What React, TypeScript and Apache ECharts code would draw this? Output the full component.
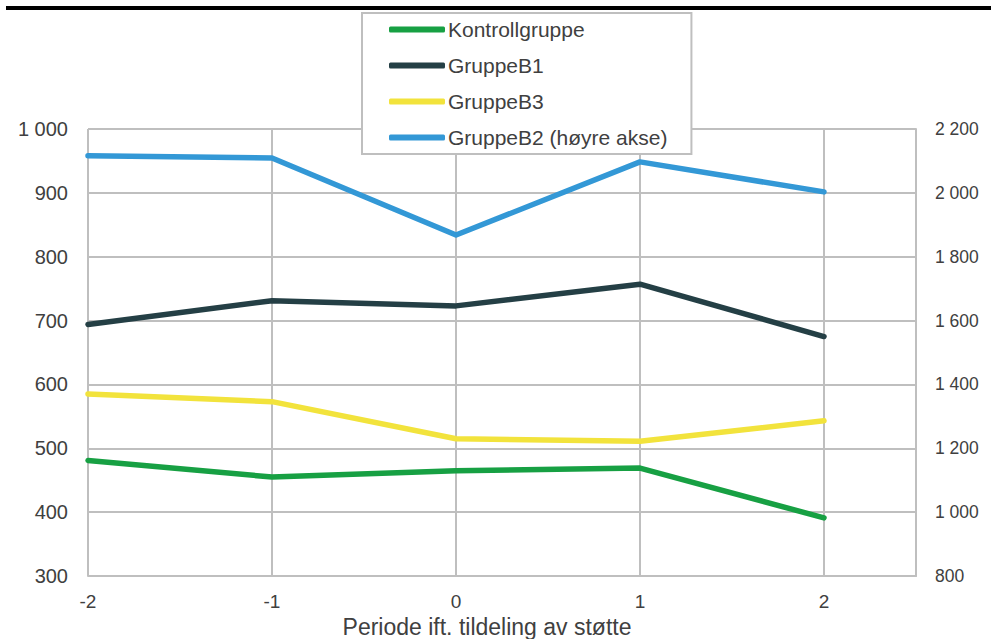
import React, { useEffect, useRef } from "react";
import * as echarts from "echarts";

const periods = [-2, -1, 0, 1, 2];
const kontrollgruppe = [481, 455, 465, 469, 391];
const gruppeB1 = [694, 731, 723, 757, 675];
const gruppeB3 = [585, 573, 515, 511, 543];
const gruppeB2 = [2116, 2109, 1868, 2097, 2003];

const leftTicks = { min: 300, max: 1000, interval: 100 };
const rightTicks = { min: 800, max: 2200, interval: 200 };

const FONT = "'Liberation Sans', Arial, sans-serif";
const TXT = "#404040";
const GRID = "#bfbfbf";

const fmt = (v: number) => {
  const s = Math.round(v).toString();
  return s.replace(/\B(?=(\d{3})+(?!\d))/g, " ");
};

const pairs = (ys: number[]) => periods.map((x, i) => [x, ys[i]]);

export default function App() {
  const ref = useRef<HTMLDivElement>(null);
  useEffect(() => {
    if (!ref.current) return;
    const chart = echarts.init(ref.current, null, { renderer: "svg" });
    const colors = ["#17a043", "#243f45", "#f2e33c", "#3398d6"];
    const names = ["Kontrollgruppe", "GruppeB1", "GruppeB3", "GruppeB2 (høyre akse)"];
    const lineSeries = (name: string, ys: number[], color: string, yAxisIndex = 0) => ({
      name,
      type: "line",
      yAxisIndex,
      data: pairs(ys),
      showSymbol: false,
      symbol: "none",
      lineStyle: { color, width: 5.5, cap: "round", join: "round" },
      itemStyle: { color },
      z: 3,
    });
    chart.setOption({
      animation: false,
      textStyle: { fontFamily: FONT },
      graphic: [
        {
          type: "rect",
          shape: { x: 6, y: 6, width: 985, height: 4 },
          style: { fill: "#000" },
          z: 10,
        },
      ],
      legend: {
        orient: "vertical",
        left: 362,
        top: 13,
        padding: [6, 24, 6, 27],
        itemGap: 15,
        itemWidth: 56,
        itemHeight: 6,
        backgroundColor: "#fff",
        borderColor: GRID,
        borderWidth: 2,
        textStyle: {
          fontFamily: FONT,
          fontSize: 21,
          lineHeight: 20,
          color: TXT,
          padding: [0, 0, 0, -2],
        },
        data: names.map((n, i) => ({
          name: n,
          icon: "roundRect",
          itemStyle: { color: colors[i] },
        })),
        z: 20,
      },
      grid: {
        left: 88,
        right: 75,
        top: 129,
        bottom: 63,
        containLabel: false,
        outerBoundsMode: "none",
      },
      xAxis: {
        type: "value",
        min: -2,
        max: 2.5,
        interval: 1,
        name: "Periode ift. tildeling av støtte",
        nameLocation: "middle",
        nameGap: 37,
        nameTextStyle: { fontFamily: FONT, fontSize: 23, color: TXT, padding: [0, 30, 0, 0] },
        axisLine: { show: true, onZero: false, lineStyle: { color: GRID, width: 2 } },
        axisTick: { show: false },
        axisLabel: {
          fontFamily: FONT,
          fontSize: 19,
          color: TXT,
          margin: 16,
          formatter: (v: number) => (Number.isInteger(v) ? String(v) : ""),
        },
        splitLine: { show: true, lineStyle: { color: GRID, width: 2 } },
      },
      yAxis: [
        {
          type: "value",
          ...leftTicks,
          position: "left",
          axisLine: { show: true, lineStyle: { color: GRID, width: 2 } },
          axisTick: { show: false },
          axisLabel: { fontFamily: FONT, fontSize: 20, color: TXT, margin: 20, formatter: fmt },
          splitLine: { show: true, lineStyle: { color: GRID, width: 2 } },
        },
        {
          type: "value",
          ...rightTicks,
          position: "right",
          axisLine: { show: true, lineStyle: { color: GRID, width: 2 } },
          axisTick: { show: false },
          axisLabel: { fontFamily: FONT, fontSize: 17.5, color: TXT, margin: 19, formatter: fmt },
          splitLine: { show: false },
        },
      ],
      series: [
        lineSeries(names[0], kontrollgruppe, colors[0]),
        lineSeries(names[1], gruppeB1, colors[1]),
        lineSeries(names[2], gruppeB3, colors[2]),
        lineSeries(names[3], gruppeB2, colors[3], 1),
      ],
    });
    return () => chart.dispose();
  }, []);
  return <div ref={ref} style={{ width: 991, height: 639, position: "absolute", left: 0, top: 0 }} />;
}
